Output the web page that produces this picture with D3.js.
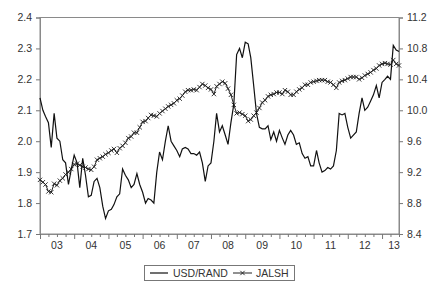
<!DOCTYPE html>
<html>

<head>
  <title>USD/RAND vs JALSH</title>
</head>

<body>

  <svg id="svg" width="433" height="282"></svg>

  <script src="https://d3js.org/d3.v7.min.js"></script>
  <script>
    // monthly observations, 2003M01 .. 2013M07
    const startYear = 2003
    const usdRand = [
      2.14, 2.10, 2.08, 2.06, 1.98, 2.09, 2.01, 2.00, 1.94, 1.93, 1.86, 1.91,
      1.955, 1.93, 1.85, 1.945, 1.89, 1.82, 1.825, 1.87, 1.88, 1.85, 1.79, 1.75,
      1.775, 1.78, 1.795, 1.82, 1.83, 1.91, 1.89, 1.875, 1.85, 1.86, 1.895, 1.86,
      1.835, 1.80, 1.815, 1.81, 1.80, 1.90, 1.965, 1.94, 2.00, 2.05, 2.00, 1.985,
      1.97, 1.95, 1.975, 1.98, 1.975, 1.96, 1.96, 1.955, 1.965, 1.93, 1.87, 1.92,
      1.93, 2.00, 2.09, 2.03, 2.05, 2.02, 1.99, 2.06, 2.12, 2.28, 2.30, 2.27,
      2.32, 2.315, 2.27, 2.18, 2.09, 2.045, 2.04, 2.04, 2.05, 2.005, 2.03, 2.00,
      2.035, 2.01, 1.99, 2.02, 2.035, 2.02, 1.99, 1.995, 1.96, 1.945, 1.95, 1.92,
      1.92, 1.97, 1.93, 1.90, 1.905, 1.915, 1.91, 1.92, 1.97, 2.09, 2.085, 2.09,
      2.045, 2.01, 2.02, 2.03, 2.09, 2.14, 2.10, 2.11, 2.13, 2.15, 2.18, 2.14,
      2.19, 2.20, 2.21, 2.20, 2.31, 2.295, 2.29
    ]
    const jalsh = [
      9.10, 9.07, 9.04, 8.95, 8.94, 9.05, 9.03, 9.09, 9.12, 9.17, 9.20, 9.24,
      9.30, 9.31, 9.29, 9.27, 9.26, 9.24, 9.23, 9.27, 9.36, 9.38, 9.40, 9.43,
      9.45, 9.48, 9.50, 9.45, 9.51, 9.54, 9.58, 9.64, 9.66, 9.71, 9.71, 9.78,
      9.85, 9.86, 9.90, 9.94, 9.93, 9.92, 9.96, 9.99, 10.02, 10.05, 10.07, 10.09,
      10.13, 10.15, 10.19, 10.24, 10.26, 10.26, 10.27, 10.26, 10.30, 10.34, 10.32, 10.29,
      10.27, 10.21, 10.31, 10.34, 10.37, 10.35, 10.28, 10.20, 10.07, 9.96, 9.97, 9.95,
      9.93, 9.86, 9.88, 9.93, 9.97, 10.03, 10.10, 10.13, 10.18, 10.20, 10.21, 10.23,
      10.23, 10.21, 10.26, 10.24, 10.20, 10.20, 10.24, 10.27, 10.29, 10.33, 10.33, 10.36,
      10.37, 10.38, 10.39, 10.39, 10.39, 10.37, 10.36, 10.33, 10.29, 10.36, 10.38, 10.39,
      10.41, 10.43, 10.43, 10.43, 10.40, 10.42, 10.45, 10.47, 10.49, 10.52, 10.54, 10.58,
      10.60, 10.61, 10.60, 10.59, 10.65, 10.60, 10.58
    ]
    const leftTicks = [1.7, 1.8, 1.9, 2.0, 2.1, 2.2, 2.3, 2.4]
    const rightTicks = [8.4, 8.8, 9.2, 9.6, 10.0, 10.4, 10.8, 11.2]
    const yearLabels = ['03', '04', '05', '06', '07', '08', '09', '10', '11', '12', '13']
    const seriesNames = ['USD/RAND', 'JALSH']

    const months = usdRand.map((d, i) => new Date(startYear, i, 1))
    const plot = { left: 40, right: 399, top: 17.5, bottom: 234 }
    const font = 'Liberation Sans, Arial, sans-serif'

    const svg = d3.select('#svg')
    svg.append('rect').attr('width', 433).attr('height', 282).attr('fill', '#fff')

    const x = d3.scaleTime()
      .domain(d3.extent(months))
      .range([plot.left, plot.right])
    const yl = d3.scaleLinear().domain([1.7, 2.4]).range([plot.bottom, plot.top])
    const yr = d3.scaleLinear().domain([8.4, 11.2]).range([plot.bottom, plot.top])

    // frame
    svg.append('rect')
      .attr('x', plot.left).attr('y', plot.top)
      .attr('width', plot.right - plot.left).attr('height', plot.bottom - plot.top)
      .attr('fill', 'none').attr('stroke', '#8a8a8a').attr('stroke-width', 1)

    // left axis
    svg.append('g').attr('transform', `translate(${plot.left},0)`)
      .call(d3.axisLeft(yl).tickValues(leftTicks).tickFormat(d3.format('.1f')).tickSize(4).tickPadding(4))
    // right axis
    svg.append('g').attr('transform', `translate(${plot.right},0)`)
      .call(d3.axisRight(yr).tickValues(rightTicks).tickFormat(d3.format('.1f')).tickSize(4).tickPadding(4))

    // bottom axis: quarter minor ticks, year major ticks
    const quarters = d3.timeMonth.every(3).range(months[0], d3.timeMonth.offset(months[months.length - 1], 1))
    const gb = svg.append('g').attr('transform', `translate(0,${plot.bottom})`)
    gb.call(d3.axisBottom(x).tickValues(quarters).tickFormat('').tickSize(3).tickSizeOuter(0))
    gb.selectAll('.tick line')
      .filter(d => d.getMonth() === 0)
      .attr('y2', 5)

    const years = yearLabels.map((d, i) => startYear + i)
    gb.selectAll('text.year')
      .data(years)
      .join('text')
      .attr('class', 'year')
      .attr('x', d => Math.min(x(new Date(d, 6, 1)), plot.right - 5))
      .attr('y', 15)
      .attr('text-anchor', 'middle')
      .text((d, i) => yearLabels[i])

    svg.selectAll('.domain').attr('stroke', '#8a8a8a')
    svg.selectAll('.tick line').attr('stroke', '#777')
    svg.selectAll('text')
      .attr('font-family', font)
      .attr('font-size', 10.5)
      .attr('fill', '#333')

    // lines
    const usdLine = d3.line()
      .x((d, i) => x(months[i]))
      .y(d => yl(d))
    const jalshLine = d3.line()
      .x((d, i) => x(months[i]))
      .y(d => yr(d))

    svg.append('path')
      .attr('d', jalshLine(jalsh))
      .attr('fill', 'none').attr('stroke', '#222').attr('stroke-width', 1)

    const cross = d3.symbol().type(d3.symbolTimes).size(14)
    svg.append('g')
      .selectAll('path')
      .data(jalsh)
      .join('path')
      .attr('transform', (d, i) => `translate(${x(months[i])},${yr(d)})`)
      .attr('d', cross)
      .attr('fill', 'none').attr('stroke', '#222').attr('stroke-width', 0.9)

    svg.append('path')
      .attr('d', usdLine(usdRand))
      .attr('fill', 'none').attr('stroke', '#111').attr('stroke-width', 1.2)

    // legend
    const lg = svg.append('g')
    lg.append('rect')
      .attr('x', 144.5).attr('y', 265.5).attr('width', 150).attr('height', 15)
      .attr('fill', '#fff').attr('stroke', '#777')
    lg.append('line')
      .attr('x1', 150).attr('x2', 168).attr('y1', 273).attr('y2', 273)
      .attr('stroke', '#111').attr('stroke-width', 1.2)
    lg.append('line')
      .attr('x1', 233).attr('x2', 252).attr('y1', 273).attr('y2', 273)
      .attr('stroke', '#222').attr('stroke-width', 1)
    lg.append('path')
      .attr('transform', 'translate(242.5,273)')
      .attr('d', cross)
      .attr('fill', 'none').attr('stroke', '#222').attr('stroke-width', 0.9)
    lg.selectAll('text')
      .data(seriesNames)
      .join('text')
      .attr('x', (d, i) => i === 0 ? 173 : 256)
      .attr('y', 273)
      .attr('dy', '0.35em')
      .attr('font-family', font)
      .attr('font-size', 10.5)
      .attr('fill', '#333')
      .text(d => d)
  </script>
</body>

<style>
  body,
  html {
    margin: 0;
    padding: 0;
  }
</style>

</html>
